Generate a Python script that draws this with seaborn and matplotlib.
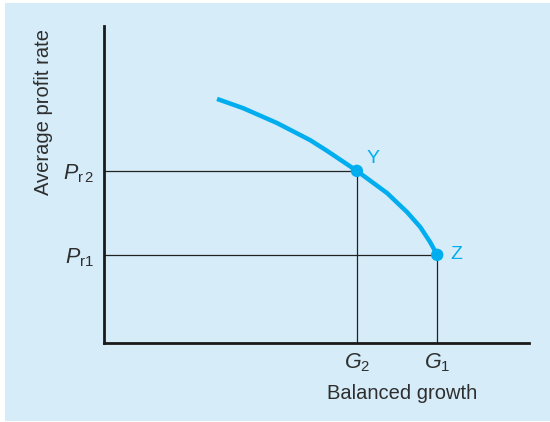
import matplotlib
matplotlib.use("Agg")
import matplotlib.pyplot as plt
from matplotlib.patches import Rectangle
import seaborn as sns
import pandas as pd

# curve (balanced growth vs average profit rate)
growth = [2.66, 3.27, 4.07, 4.85, 5.25, 5.95, 6.66, 7.13, 7.44, 7.67, 7.84]
profit = [7.70, 7.41, 6.94, 6.40, 6.06, 5.43, 4.73, 4.13, 3.66, 3.19, 2.78]

# the two marked points
point_names = ["Y", "Z"]
point_g = [5.95, 7.84]
point_p = [5.43, 2.78]

x_tick_labels = [r"$G_2$", r"$G_1$"]
y_tick_labels = [r"$P_{\mathrm{r}\,2}$", r"$P_{\mathrm{r}1}$"]

blue = "#00aeef"
bg = "#d6ecf9"
ink = "#2e2e2e"

sns.set_theme(style="white")
plt.rcParams["font.family"] = ["Liberation Sans", "DejaVu Sans"]
plt.rcParams["mathtext.fontset"] = "custom"
plt.rcParams["mathtext.rm"] = "Liberation Sans"
plt.rcParams["mathtext.it"] = "Liberation Sans:italic"

fig = plt.figure(figsize=(5.5, 4.22), dpi=100, facecolor="white")
fig.patches.append(Rectangle((5 / 550, 1 / 422), 545 / 550, 418 / 422,
                             transform=fig.transFigure, facecolor=bg,
                             edgecolor="none", zorder=-10))
ax = fig.add_axes([104 / 550, 79 / 422, 425 / 550, 317 / 422])
ax.set_facecolor("none")

curve = pd.DataFrame({"growth": growth, "profit": profit})
pts = pd.DataFrame({"growth": point_g, "profit": point_p, "name": point_names})

# guide lines from the axes to Y and Z
for g, p in zip(point_g, point_p):
    ax.plot([0, g], [p, p], color="#222222", lw=0.9, zorder=1)
    ax.plot([g, g], [0, p], color="#222222", lw=0.9, zorder=1)

sns.lineplot(data=curve, x="growth", y="profit", ax=ax, color=blue,
             lw=3.2, sort=False, zorder=3,
             solid_joinstyle="round", solid_capstyle="butt")
sns.scatterplot(data=pts, x="growth", y="profit", ax=ax, color=blue,
                s=80, edgecolor="none", zorder=4)
label_dx = {"Y": 0.22, "Z": 0.3}
label_dy = {"Y": 0.38, "Z": 0.0}
for _, r in pts.iterrows():
    ax.text(r.growth + label_dx[r["name"]], r.profit + label_dy[r["name"]],
            r["name"], color=blue, fontsize=14, va="center", ha="left")

ax.set_xlim(0, 10)
ax.set_ylim(0, 10)
ax.set_xticks(point_g)
ax.set_xticklabels(x_tick_labels)
ax.set_yticks(point_p)
ax.set_yticklabels(y_tick_labels)
ax.tick_params(length=0, labelsize=15.5, colors=ink)
ax.tick_params(axis="x", pad=6)
ax.tick_params(axis="y", pad=7)

for side in ["top", "right"]:
    ax.spines[side].set_visible(False)
for side in ["left", "bottom"]:
    ax.spines[side].set_color("#1a1a1a")
    ax.spines[side].set_linewidth(2.0)

ax.set_xlabel("Balanced growth", fontsize=14.5, color=ink)
ax.set_ylabel("Average profit rate", fontsize=14.5, color=ink)
ax.xaxis.set_label_coords(0.701, -0.13)
ax.yaxis.set_label_coords(-0.12, 0.729)

fig.savefig("out.png", dpi=100, facecolor=fig.get_facecolor())
